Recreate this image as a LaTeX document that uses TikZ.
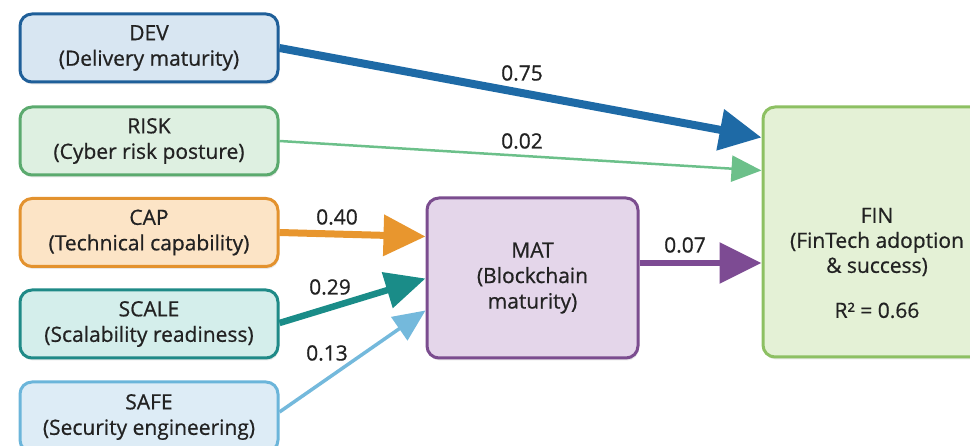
\documentclass[tikz,border=0pt]{standalone}
\usepackage{fontspec}
\setmainfont{Open Sans}[FakeBold=0.7]
\usetikzlibrary{arrows.meta,calc,shadows}
\definecolor{devB}{HTML}{1F5F99}\definecolor{devF}{HTML}{D8E6F2}\definecolor{devA}{HTML}{1E6AA6}
\definecolor{riskB}{HTML}{5BAA6E}\definecolor{riskF}{HTML}{DEF0E1}\definecolor{riskA}{HTML}{6CC08A}
\definecolor{capB}{HTML}{E3922E}\definecolor{capF}{HTML}{FCE4C6}\definecolor{capA}{HTML}{E8962E}
\definecolor{scaB}{HTML}{1F8A87}\definecolor{scaF}{HTML}{D4EEEB}\definecolor{scaA}{HTML}{1A8C88}
\definecolor{safB}{HTML}{6BB5DA}\definecolor{safF}{HTML}{DDECF6}\definecolor{safA}{HTML}{74B9DC}
\definecolor{matB}{HTML}{7B4D8F}\definecolor{matF}{HTML}{E4D6EA}\definecolor{matA}{HTML}{7D4B93}
\definecolor{finB}{HTML}{8DC063}\definecolor{finF}{HTML}{E4F1D6}
\definecolor{txt}{HTML}{222222}
\tikzset{
  box/.style={draw=#1B, fill=#1F, line width=3pt, rounded corners=12pt, align=center,
    text=txt, font=\fontsize{21}{25.5}\selectfont, inner sep=0pt,
    drop shadow={opacity=0.18, shadow xshift=1pt, shadow yshift=-2.5pt}},
  inbox/.style={box=#1, minimum width=258pt, minimum height=68pt},
  lab/.style={text=txt, font=\fontsize{21}{24}\selectfont, inner sep=0pt},
  conn/.style={draw=#1, -{Triangle[length=42pt,width=40pt]}},
}
\begin{document}
\begin{tikzpicture}[x=1pt,y=-1pt]
\useasboundingbox (0,0) rectangle (970,446);
\clip (0,0) rectangle (970,446);
\node[inbox=dev] (dev) at (149,48) {DEV\\(Delivery maturity)};
\node[inbox=risk] (risk) at (149,141) {RISK\\(Cyber risk posture)};
\node[inbox=cap] (cap) at (149,232.5) {CAP\\(Technical capability)};
\node[inbox=sca] (scale) at (149,324) {SCALE\\(Scalability readiness)};
\node[box=saf, minimum width=258pt, minimum height=70pt] (safe) at (149,417) {};
\node[text=txt, font=\fontsize{21}{25.5}\selectfont, align=center, inner sep=0pt] (safetxt) at (149,417) {SAFE\\(Security engineering)};
\node[box=mat, minimum width=211pt, minimum height=160pt] (mat) at (532.5,278) {MAT\\(Blockchain\\maturity)};
\node[box=fin, minimum width=228pt, minimum height=250pt] (fin) at (877,232) {};
\node[text=txt, font=\fontsize{21}{25}\selectfont, align=center, inner sep=0pt] (fintxt) at (877,263) {FIN\\(FinTech adoption\\\& success)\\[20pt]R² = 0.66};
% connectors
\draw[conn=devA, line width=8pt] (dev.east) -- ($(fin.north west)+(0,32)$);
\draw[draw=riskA, line width=2.5pt, -{Triangle[length=30pt,width=26pt]}] (risk.east) -- ($(fin.north west)+(0,65)$);
\draw[conn=capA, line width=7pt] (cap.east) -- ($(mat.north west)+(0,40)$);
\draw[draw=scaA, line width=6.5pt, -{Triangle[length=40pt,width=36pt]}] ($(scale.east)+(0,-1)$) -- ($(mat.north west)+(0,82)$);
\draw[draw=safA, line width=3.5pt, -{Triangle[length=32pt,width=28pt]}] ($(safe.east)+(0,-5)$) -- ($(mat.north west)+(0,114)$);
\draw[conn=matA, line width=6pt] ($(mat.east)+(0,-15)$) -- ($(fin.west)+(0,31)$);
% labels
\node[lab] (l75) at (522,73) {0.75};
\node[lab] (l02) at (522,141) {0.02};
\node[lab] (l40) at (337,217) {0.40};
\node[lab] (l29) at (330,287) {0.29};
\node[lab] (l13) at (327,353) {0.13};
\node[lab] (l07) at (685,245) {0.07};
\end{tikzpicture}
\end{document}
